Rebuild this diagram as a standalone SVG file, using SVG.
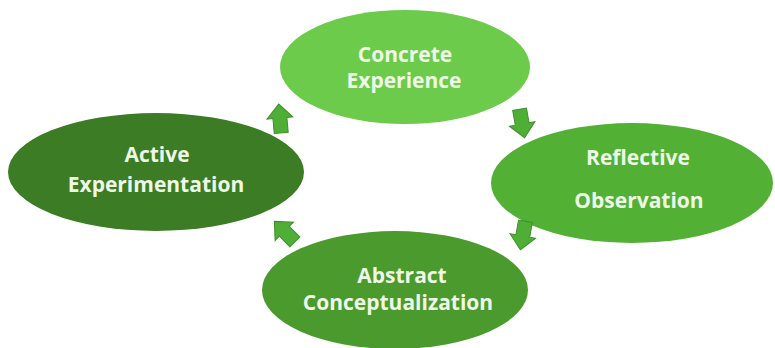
<svg xmlns="http://www.w3.org/2000/svg" width="775" height="348" viewBox="0 0 775 348">
<defs>
<style>
.lbl{font-family:"Open Sans","Liberation Sans",sans-serif;font-weight:700;font-size:21px;fill:#eef8e6;text-anchor:middle}
.arr{fill:#4fae36;stroke:#3f8f2a;stroke-width:1}
</style>
<path id="ba" d="M-14,-7 L1,-7 L1,-13 L15,0 L1,13 L1,7 L-14,7 Z"/>
</defs>
<rect width="775" height="348" fill="#ffffff"/>
<g id="concrete">
<ellipse cx="405" cy="67" rx="125" ry="57" fill="#6ccb4a"/>
<text class="lbl" x="405" y="62">Concrete</text>
<text class="lbl" x="404" y="88">Experience</text>
</g>
<g id="reflective">
<ellipse cx="632" cy="183" rx="141" ry="60" fill="#52b034"/>
<text class="lbl" x="638" y="165">Reflective</text>
<text class="lbl" x="639" y="208">Observation</text>
</g>
<g id="abstract">
<ellipse cx="395" cy="290" rx="133" ry="59" fill="#4a9a2e"/>
<text class="lbl" x="402" y="283">Abstract</text>
<text class="lbl" x="398" y="310">Conceptualization</text>
</g>
<g id="active">
<ellipse cx="156" cy="172" rx="148" ry="59" fill="#3b7c24"/>
<text class="lbl" x="157" y="162">Active</text>
<text class="lbl" x="156" y="192">Experimentation</text>
</g>
<g id="connectors">
<use href="#ba" class="arr" transform="translate(280,119) rotate(-95)"/>
<use href="#ba" class="arr" transform="translate(522,123) rotate(80)"/>
<use href="#ba" class="arr" transform="translate(523,235) rotate(100)"/>
<use href="#ba" class="arr" transform="translate(285,232) rotate(-135)"/>
</g>
</svg>
